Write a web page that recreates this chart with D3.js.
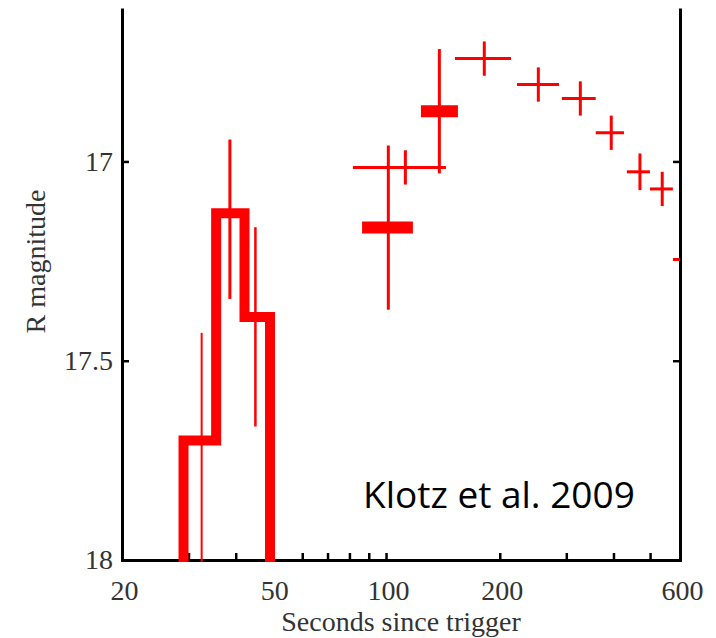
<!DOCTYPE html>
<html>
<head>
<meta charset="utf-8">
<script src="https://cdn.jsdelivr.net/npm/d3@7"></script>
<style>
  html, body { margin: 0; padding: 0; background: #fff; }
  svg { display: block; }
</style>
</head>
<body>
<svg id="chart" width="716" height="638"></svg>
<script>
// ---- data ----
// thick step outline (time range in s, R magnitude)
const steps = [
  { t0: 29.1, t1: 35.5, mag: 17.70 },
  { t0: 35.5, t1: 42.2, mag: 17.13 },
  { t0: 42.2, t1: 49.3, mag: 17.39 }
];
// thin vertical error bars of the step points
const stepErrors = [
  { t: 32.5, mag: 17.72, err: 0.29, w: 2 },
  { t: 38.6, mag: 17.145, err: 0.20, w: 3 },
  { t: 45.1, mag: 17.415, err: 0.25, w: 2.5 }
];
// isolated thick bars with their error bars
const bars = [
  { t0: 86.4, t1: 117.8, mag: 17.166, t: 101.4, err: 0.206 },
  { t0: 123.7, t1: 155.0, mag: 16.874, t: 138.4, err: 0.156 }
];
// thin crosses (x range, y error)
const crosses = [
  { t: 112.5, tMin: 81.7, tMax: 144.1, mag: 17.015, err: 0.043 },
  { t: 182.0, tMin: 152.2, tMax: 214.2, mag: 16.742, err: 0.043 },
  { t: 253.0, tMin: 222.2, tMax: 287.0, mag: 16.807, err: 0.043 },
  { t: 326.8, tMin: 292.0, tMax: 359.0, mag: 16.842, err: 0.043 },
  { t: 394.6, tMin: 359.0, tMax: 426.4, mag: 16.928, err: 0.043 },
  { t: 470.0, tMin: 434.0, tMax: 499.6, mag: 17.026, err: 0.046 },
  { t: 538.4, tMin: 499.6, tMax: 574.6, mag: 17.069, err: 0.043 },
  { t: 615.0, tMin: 574.6, tMax: 655.0, mag: 17.246, err: 0.043 }
];
const xTicks = [20, 30, 40, 50, 60, 70, 80, 90, 100, 200, 300, 400, 500, 600];
const xLabels = [20, 50, 100, 200, 600];
const yTicks = [17, 17.5, 18];
const xTitle = "Seconds since trigger";
const yTitle = "R magnitude";
const note = "Klotz et al. 2009";

// ---- layout ----
const svg = d3.select("#chart");
const L = 122, R = 680, T = 8, B = 560;
const x = d3.scaleLog().domain([20, 600]).range([L, R]);
const y = d3.scaleLinear().domain([18, 16.615]).range([B, T]);
const red = "#ff0000";
const serif = "'Liberation Serif', 'Times New Roman', serif";

svg.append("defs").append("clipPath").attr("id", "plotclip")
  .append("rect").attr("x", L).attr("y", T).attr("width", R - L).attr("height", B - T + 2);

// ---- axes ----
const xAxis = d3.axisBottom(x).tickValues(xTicks)
  .tickFormat(d => xLabels.includes(d) ? d3.format("d")(d) : "")
  .tickSizeInner(-7).tickSizeOuter(0);
const gx = svg.append("g").attr("transform", `translate(0,${B})`).call(xAxis);
gx.select(".domain").attr("stroke", "#000").attr("stroke-width", 3).attr("stroke-linecap", "square");
gx.selectAll(".tick line").attr("stroke", "#000").attr("stroke-width", 2.5);
gx.selectAll(".tick text").attr("y", 40).attr("dy", 0).attr("dx", 2)
  .attr("font-family", serif).attr("font-size", 28).attr("fill", "#333");

const yAxis = d3.axisLeft(y).tickValues(yTicks).tickFormat(d3.format("~g"))
  .tickSizeInner(-7).tickSizeOuter(0).tickPadding(9);
const gy = svg.append("g").attr("transform", `translate(${L},0)`).call(yAxis);
gy.select(".domain").attr("stroke", "#000").attr("stroke-width", 3);
gy.selectAll(".tick line").attr("stroke", "#000").attr("stroke-width", 2.5);
gy.selectAll(".tick text").attr("font-family", serif).attr("font-size", 28).attr("fill", "#333");

const yAxisR = d3.axisRight(y).tickValues(yTicks).tickFormat("")
  .tickSizeInner(-7).tickSizeOuter(0);
const gyr = svg.append("g").attr("transform", `translate(${R},0)`).call(yAxisR);
gyr.select(".domain").attr("stroke", "#000").attr("stroke-width", 3);
gyr.selectAll(".tick line").attr("stroke", "#000").attr("stroke-width", 2.5);
svg.selectAll(".domain").attr("fill", "none");

// titles
svg.append("text").attr("x", 401).attr("y", 631).attr("text-anchor", "middle")
  .attr("font-family", serif).attr("font-size", 28).attr("fill", "#333").text(xTitle);
svg.append("text").attr("transform", "translate(45,261.5) rotate(-90)").attr("text-anchor", "middle")
  .attr("font-family", serif).attr("font-size", 28).attr("fill", "#333").text(yTitle);

// ---- marks ----
const plot = svg.append("g").attr("clip-path", "url(#plotclip)");

// step outline
const stepPts = [[steps[0].t0, 18.1]];
steps.forEach(s => { stepPts.push([s.t0, s.mag]); stepPts.push([s.t1, s.mag]); });
stepPts.push([steps[steps.length - 1].t1, 18.1]);
plot.append("path")
  .attr("d", d3.line().x(d => x(d[0])).y(d => y(d[1]))(stepPts))
  .attr("fill", "none").attr("stroke", red).attr("stroke-width", 10)
  .attr("stroke-linejoin", "miter");

// step error bars
plot.selectAll(".serr").data(stepErrors).join("line").attr("class", "serr")
  .attr("x1", d => x(d.t)).attr("x2", d => x(d.t))
  .attr("y1", d => y(d.mag - d.err)).attr("y2", d => y(d.mag + d.err))
  .attr("stroke", red).attr("stroke-width", d => d.w);

// thick bars + their error bars
plot.selectAll(".berr").data(bars).join("line").attr("class", "berr")
  .attr("x1", d => x(d.t)).attr("x2", d => x(d.t))
  .attr("y1", d => y(d.mag - d.err)).attr("y2", d => y(d.mag + d.err))
  .attr("stroke", red).attr("stroke-width", 3);
plot.selectAll(".bar").data(bars).join("line").attr("class", "bar")
  .attr("x1", d => x(d.t0)).attr("x2", d => x(d.t1))
  .attr("y1", d => y(d.mag)).attr("y2", d => y(d.mag))
  .attr("stroke", red).attr("stroke-width", 12);

// crosses
plot.selectAll(".ch").data(crosses).join("line").attr("class", "ch")
  .attr("x1", d => x(d.tMin)).attr("x2", d => x(d.tMax))
  .attr("y1", d => y(d.mag)).attr("y2", d => y(d.mag))
  .attr("stroke", red).attr("stroke-width", 3);
plot.selectAll(".cv").data(crosses).join("line").attr("class", "cv")
  .attr("x1", d => x(d.t)).attr("x2", d => x(d.t))
  .attr("y1", d => y(d.mag - d.err)).attr("y2", d => y(d.mag + d.err))
  .attr("stroke", red).attr("stroke-width", 3);

// annotation
svg.append("text").attr("x", 363).attr("y", 508)
  .attr("font-family", "'Open Sans', 'Noto Sans', sans-serif").attr("font-size", 37)
  .attr("fill", "#000").text(note);
</script>
</body>
</html>
